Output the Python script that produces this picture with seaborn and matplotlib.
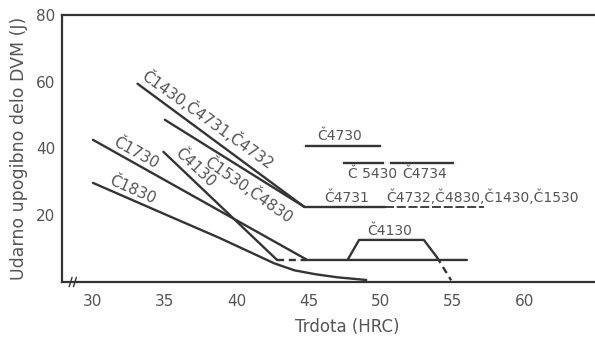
import numpy as np
import pandas as pd
import matplotlib
matplotlib.use("Agg")
import matplotlib.pyplot as plt
import seaborn as sns

sns.set_style("white")
plt.rcParams["font.family"] = ["DejaVu Sans"]

INK = "#343434"
TXT = "#555555"
LW = 1.7

# ── values: hardness (HRC) vs. DVM impact energy (J) ────────────────────────
hrc_1430 = [33.1, 44.7]
kv_1430 = [59.4, 22.5]
hrc_1530 = [35.0, 44.7]
kv_1530 = [48.6, 22.5]
hrc_plateau = [44.7, 50.3]
kv_plateau = [22.5, 22.5]
hrc_plateau_ext = [50.3, 57.2]
kv_plateau_ext = [22.5, 22.5]

hrc_1730 = [30.0, 44.9, 56.0]
kv_1730 = [42.6, 6.6, 6.6]

hrc_4130 = [34.9, 42.8]
kv_4130 = [39.0, 6.6]
hrc_4130_gap = [42.8, 44.9]
kv_4130_gap = [6.6, 6.6]
hrc_4130_hump = [47.7, 48.5, 53.0, 53.9]
kv_4130_hump = [6.6, 12.6, 12.6, 7.5]
hrc_4130_drop = [53.9, 54.9]
kv_4130_drop = [7.5, 0.5]

hrc_1830 = [30.0, 35.0, 38.8, 41.0, 42.6, 44.0, 45.5, 47.0, 49.0]
kv_1830 = [29.7, 20.3, 13.2, 8.8, 5.6, 3.5, 2.3, 1.4, 0.6]

# range bars: name, from HRC, to HRC, energy
bar_names = ["Č4730", "Č 5430", "Č4734"]
bar_lo = [44.7, 47.3, 50.6]
bar_hi = [50.1, 50.3, 55.2]
bar_kv = [40.8, 35.7, 35.7]

x_ticks = [30, 35, 40, 45, 50, 55, 60]
y_ticks = [20, 40, 60, 80]

fig = plt.figure(figsize=(5.95, 3.38), dpi=100)
ax = fig.add_axes([0.1042, 0.1657, 0.8958, 0.790])


def curve(x, y, ls="-", lw=LW, **kw):
    sns.lineplot(x=x, y=y, sort=False, estimator=None, color=INK, lw=lw,
                 linestyle=ls, ax=ax, **kw)


curve(hrc_1430, kv_1430)
curve(hrc_1530, kv_1530)
curve(hrc_plateau, kv_plateau)
curve(hrc_plateau_ext, kv_plateau_ext, ls=(0, (5, 1.5)), lw=1.3)
curve(hrc_1730, kv_1730)
curve(hrc_4130, kv_4130)
curve(hrc_4130_gap, kv_4130_gap, ls=(0, (3, 2)))
curve(hrc_4130_hump, kv_4130_hump)
curve(hrc_4130_drop, kv_4130_drop, ls=(0, (3, 2)))
curve(hrc_1830, kv_1830)

for lo, hi, kv in zip(bar_lo, bar_hi, bar_kv):
    curve([lo, hi], [kv, kv], marker="|", markersize=5, markeredgewidth=1.3)

# ── labels ───────────────────────────────────────────────────────────────────
tk = dict(color=TXT, fontsize=10, rotation_mode="anchor")
rk = dict(tk, fontsize=11)
ax.text(33.2, 60.3, "Č1430,Č4731,Č4732", rotation=-35.5, ha="left", va="bottom", **rk)
ax.text(38.2, 38.6, "Č1530,Č4830", rotation=-35, ha="left", va="top", **rk)
ax.text(31.2, 40.2, "Č1730", rotation=-29, ha="left", va="bottom", **rk)
ax.text(31.0, 28.4, "Č1830", rotation=-24, ha="left", va="bottom", **rk)
ax.text(35.5, 37.6, "Č4130", rotation=-43.5, ha="left", va="bottom", **rk)

ax.text(45.6, 41.6, bar_names[0], ha="left", va="bottom", **tk)
ax.text(47.7, 34.4, bar_names[1], ha="left", va="top", **tk)
ax.text(51.5, 34.4, bar_names[2], ha="left", va="top", **tk)
ax.text(46.1, 23.2, "Č4731", ha="left", va="bottom", **tk)
ax.text(50.4, 23.2, "Č4732,Č4830,Č1430,Č1530", ha="left", va="bottom", **tk)
ax.text(49.1, 13.3, "Č4130", ha="left", va="bottom", **tk)

# axis break marks near the origin
for xb in (28.45, 28.75):
    ax.plot([xb - 0.1, xb + 0.1], [-1.4, 1.4], color=INK, lw=1.0, clip_on=False)

# ── axes ─────────────────────────────────────────────────────────────────────
ax.set_xlim(27.85, 64.9)
ax.set_ylim(0, 80)
ax.set_xticks(x_ticks)
ax.set_yticks(y_ticks)
ax.tick_params(axis="x", direction="inout", length=7, width=1.2, color=INK,
               labelsize=11, labelcolor=TXT, pad=5)
ax.tick_params(axis="y", direction="out", length=4, width=1.2, color=INK,
               labelsize=11, labelcolor=TXT, pad=1)
for side in ("left", "bottom", "top"):
    ax.spines[side].set_color(INK)
    ax.spines[side].set_linewidth(1.6)
ax.spines["right"].set_visible(False)

ax.set_xlabel("Trdota (HRC)", fontsize=12, color=TXT)
ax.xaxis.set_label_coords(0.535, -0.135)
ax.set_ylabel("Udarno upogibno delo DVM (J)", fontsize=12.5, color=TXT)
ax.yaxis.set_label_coords(-0.064, 0.5)

fig.savefig("out.png", dpi=100)
plt.close(fig)
